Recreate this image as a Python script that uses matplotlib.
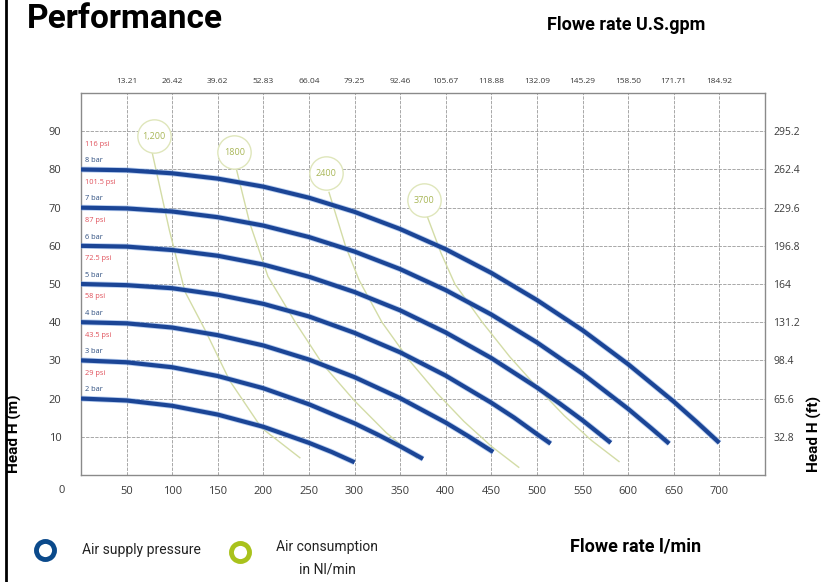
import matplotlib
matplotlib.use("Agg")
import matplotlib.pyplot as plt
from matplotlib.lines import Line2D

# ---------------- data ----------------
# pump curves: flow (l/min) vs head (m), one per supply pressure
bar_labels = ["8 bar", "7 bar", "6 bar", "5 bar", "4 bar", "3 bar", "2 bar"]
psi_labels = ["116 psi", "101.5 psi", "87 psi", "72.5 psi", "58 psi", "43.5 psi", "29 psi"]
start_head = [80, 70, 60, 50, 40, 30, 20]

q_8 = [0, 50, 100, 150, 200, 250, 300, 350, 400, 450, 500, 550, 600, 650, 675, 700]
h_8 = [80, 79.8, 79, 77.6, 75.5, 72.6, 68.9, 64.4, 59.1, 52.9, 45.8, 37.9, 29, 19.2, 13.9, 8.4]
q_7 = [0, 50, 100, 150, 200, 250, 300, 350, 400, 450, 500, 550, 600, 625, 645]
h_7 = [70, 69.8, 69, 67.5, 65.3, 62.3, 58.5, 53.9, 48.4, 42, 34.7, 26.5, 17.3, 12.3, 8.2]
q_6 = [0, 50, 100, 150, 200, 250, 300, 350, 400, 450, 500, 525, 550, 581]
h_6 = [60, 59.8, 58.9, 57.4, 55.1, 51.9, 47.9, 43.1, 37.3, 30.6, 22.9, 18.7, 14.3, 8.4]
q_5 = [0, 50, 100, 150, 200, 250, 300, 350, 400, 450, 475, 500, 515]
h_5 = [50, 49.7, 48.9, 47.2, 44.8, 41.5, 37.2, 32.1, 26, 18.9, 15, 10.7, 8.2]
q_4 = [0, 50, 100, 150, 200, 250, 300, 350, 400, 425, 452]
h_4 = [40, 39.7, 38.6, 36.6, 33.9, 30.2, 25.6, 20.1, 13.7, 10.1, 6]
q_3 = [0, 50, 100, 150, 200, 250, 300, 325, 350, 375]
h_3 = [30, 29.5, 28.2, 25.9, 22.7, 18.5, 13.5, 10.6, 7.5, 4.2]
q_2 = [0, 50, 100, 150, 200, 250, 275, 300]
h_2 = [20, 19.5, 18.1, 15.8, 12.6, 8.4, 6, 3.3]

pump_q = [q_8, q_7, q_6, q_5, q_4, q_3, q_2]
pump_h = [h_8, h_7, h_6, h_5, h_4, h_3, h_2]

# air consumption lines (Nl/min)
air_labels = ["1,200", "1800", "2400", "3700"]
air_label_q = [80, 168, 269, 376]
air_label_h = [88.7, 84.5, 79, 72]
air_q = [
    [78, 97, 114, 136, 163, 198, 240],
    [170, 185, 205, 235, 265, 300, 335, 368],
    [272, 290, 305, 330, 360, 390, 420, 450, 480],
    [380, 395, 410, 440, 470, 500, 530, 560, 590],
]
air_h = [
    [84.5, 64, 48, 38, 24.7, 12.3, 4.5],
    [80.5, 66, 52, 40, 29, 19.4, 11, 4.5],
    [74, 60, 51, 40, 30, 21.5, 14, 7.5, 2],
    [67.5, 58, 50, 40, 31, 23, 15.5, 9, 3.5],
]

# axis ticks
lpm_ticks = [50, 100, 150, 200, 250, 300, 350, 400, 450, 500, 550, 600, 650, 700]
gpm_labels = ["13.21", "26.42", "39.62", "52.83", "66.04", "79.25", "92.46", "105.67",
              "118.88", "132.09", "145.29", "158.50", "171.71", "184.92"]
head_m_ticks = [10, 20, 30, 40, 50, 60, 70, 80, 90]
head_ft_labels = ["32.8", "65.6", "98.4", "131.2", "164", "196.8", "229.6", "262.4", "295.2"]

# ---------------- plotting ----------------
plt.rcParams['font.family'] = ['Roboto', 'DejaVu Sans']

blue = '#1b4596'
green_line = '#d3dca6'
green_text = '#a8b656'
tick_col = '#3a3a3a'
small = ['Open Sans', 'DejaVu Sans']

fig = plt.figure(figsize=(8.29, 5.82), dpi=100)
ax = fig.add_axes([0.0977, 0.184, 0.825, 0.656])

ax.set_xlim(0, 750)
ax.set_ylim(0, 100)

ax.set_xticks(lpm_ticks)
ax.set_yticks(head_m_ticks)
ax.set_xticklabels([str(t) for t in lpm_ticks], fontsize=8, color=tick_col, family=small)
ax.set_yticklabels([str(t) for t in head_m_ticks], fontsize=8, color=tick_col, family=small)
ax.tick_params(axis='both', length=0, pad=14)
ax.tick_params(axis='x', pad=8)
ax.grid(True, color='#9a9a9a', linestyle=(0, (4, 1.5)), linewidth=0.6)
for s in ax.spines.values():
    s.set_color('#8a8a8a')
    s.set_linewidth(1.0)

# the stray "0" in the lower-left corner
ax.text(-0.028, -0.04, "0", transform=ax.transAxes, ha='center', va='center',
        fontsize=8, color=tick_col, family=small)

# top gpm axis
top = ax.twiny()
top.set_xlim(ax.get_xlim())
top.set_xticks(lpm_ticks)
top.set_xticklabels(gpm_labels, fontsize=6, color=tick_col, family=small)
top.tick_params(axis='x', length=0, pad=6)

# right ft axis
right = ax.twinx()
right.set_ylim(ax.get_ylim())
right.set_yticks(head_m_ticks)
right.set_yticklabels(head_ft_labels, fontsize=7.5, color=tick_col, family=small)
right.tick_params(axis='y', length=0, pad=6)
for a in (top, right):
    for s in a.spines.values():
        s.set_visible(False)

# air consumption lines and labelled circles
for q, h in zip(air_q, air_h):
    ax.plot(q, h, color=green_line, linewidth=1.0, zorder=2)
for lab, q, h in zip(air_labels, air_label_q, air_label_h):
    ax.plot(q, h, marker='o', markersize=24, markerfacecolor='white',
            markeredgecolor='#dfe6bb', markeredgewidth=1.0, zorder=3)
    ax.text(q, h, lab, ha='center', va='center', fontsize=6.5, color=green_text,
            family=small, zorder=4)

# pump curves
for q, h in zip(pump_q, pump_h):
    ax.plot(q, h, color='#6f9be0', linewidth=4.2, solid_capstyle='butt',
            solid_joinstyle='round', zorder=4, alpha=0.5)
    ax.plot(q, h, color=blue, linewidth=3.0, solid_capstyle='butt',
            solid_joinstyle='round', zorder=5)

for b, p, h0 in zip(bar_labels, psi_labels, start_head):
    ax.text(4, h0 + 6.6, p, fontsize=5.3, color='#e0505a', va='center', ha='left',
            family=small, zorder=6)
    ax.text(4, h0 + 2.3, b, fontsize=5.3, color='#2f4f80', va='center', ha='left',
            family=small, zorder=6)

# titles
fig.text(0.033, 0.952, "Performance", fontsize=24, fontweight='bold', ha='left', va='baseline')
fig.text(0.755, 0.949, "Flowe rate U.S.gpm", fontsize=13, fontweight='bold', ha='center', va='baseline')
fig.text(0.767, 0.053, "Flowe rate l/min", fontsize=13, fontweight='bold', ha='center', va='baseline')
fig.text(0.017, 0.255, "Head H (m)", fontsize=11, fontweight='bold', rotation=90, ha='center', va='center')
fig.text(0.983, 0.255, "Head H (ft)", fontsize=11, fontweight='bold', rotation=90, ha='center', va='center')

# left border rule
fig.add_artist(Line2D([0.007, 0.007], [0, 1], color='black', linewidth=2.0))

# legend
fig.add_artist(Line2D([0.054], [0.055], marker='o', markersize=13, markerfacecolor='white',
                      markeredgecolor='#0b4a8b', markeredgewidth=3.5, linestyle='none'))
fig.text(0.099, 0.055, "Air supply pressure", fontsize=10, ha='left', va='center', color='#222222')
fig.add_artist(Line2D([0.290], [0.052], marker='o', markersize=13, markerfacecolor='white',
                      markeredgecolor='#a9c21c', markeredgewidth=3.5, linestyle='none'))
fig.text(0.395, 0.060, "Air consumption", fontsize=10, ha='center', va='center', color='#222222')
fig.text(0.395, 0.022, "in Nl/min", fontsize=10, ha='center', va='center', color='#222222')

fig.savefig("out.png", dpi=100)
